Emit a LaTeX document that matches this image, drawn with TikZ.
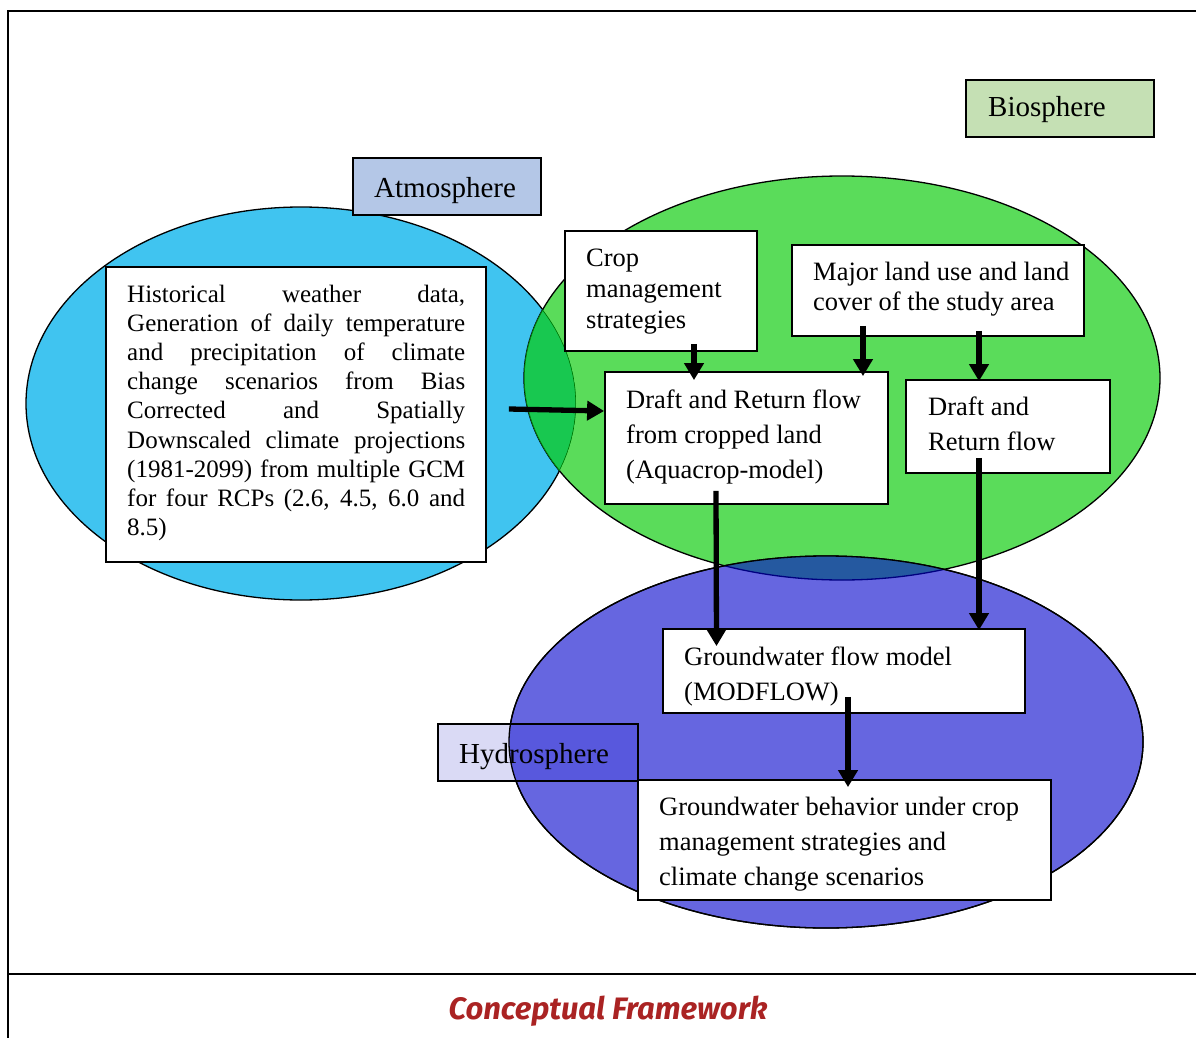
\documentclass[tikz,border=0pt]{standalone}
\usepackage{fontspec}
\setmainfont{Liberation Serif}
\newfontfamily\capfont{Fira Sans}
\usetikzlibrary{arrows.meta,calc}
\definecolor{blueE}{RGB}{64,196,240}
\definecolor{greenE}{RGB}{90,220,90}
\definecolor{purpleE}{RGB}{102,102,224}
\definecolor{ovBG}{RGB}{24,200,80}
\definecolor{ovGP}{RGB}{37,89,160}
\definecolor{hydroF}{RGB}{218,218,245}
\definecolor{hydroOv}{RGB}{88,88,221}
\definecolor{atmF}{RGB}{180,199,231}
\definecolor{bioF}{RGB}{197,224,180}
\definecolor{capred}{RGB}{170,35,35}
\begin{document}
\begin{tikzpicture}[x=1pt,y=-1pt,
  box/.style={draw=black,line width=1.8pt,fill=white,inner sep=0pt,rectangle},
  lbl/.style={anchor=base west,inner sep=0pt,align=left,font=\fontsize{26.5}{35}\selectfont},
  arr/.style={line width=5.3pt,-{Triangle[length=17pt,width=19pt]}},
  ell/.style={draw=black,line width=1.3pt},
  frame/.style={line width=1.8pt}]
\useasboundingbox (0,0) rectangle (1196,1038);
% outer frame
\draw[frame] (8,1038) -- (8,11) -- (1196,11);
\draw[frame] (8,974) -- (1196,974);
% ellipses
\def\blueEll{(301,403.5) ellipse [x radius=275pt, y radius=196.5pt]}
\def\greenEll{(842,378) ellipse [x radius=318pt, y radius=202pt]}
\def\purpleEll{(826,742) ellipse [x radius=317pt, y radius=186pt]}
\fill[blueE] \blueEll;
\draw[ell] \blueEll;
\fill[greenE] \greenEll;
\draw[ell] \greenEll;
\begin{scope}
  \clip \blueEll;
  \fill[ovBG] \greenEll;
  \clip \greenEll;
  \draw[line width=1.2pt,green!45!black] \greenEll;
  \draw[line width=1.2pt,green!45!black] \blueEll;
\end{scope}
\fill[purpleE] \purpleEll;
\draw[ell] \purpleEll;
\begin{scope}
  \clip \purpleEll;
  \fill[ovGP] \greenEll;
  \draw[line width=1.3pt,blue!50!black] \greenEll;
\end{scope}
\draw[ell] \purpleEll;
% label boxes
\node[box,fill=bioF,minimum width=188pt,minimum height=57pt] (bio) at (1060,108.5) {};
\node[lbl,font=\fontsize{29}{34}\selectfont] (biot) at (988,117) {Biosphere};
\node[box,fill=atmF,minimum width=188pt,minimum height=57pt] (atm) at (447,186.5) {};
\node[lbl,font=\fontsize{29}{34}\selectfont] (atmt) at (374,197) {Atmosphere};
% hydrosphere box with transparency look
\fill[hydroF] (438,724) rectangle (638,781);
\begin{scope}
  \clip (438,724) rectangle (638,781);
  \fill[hydroOv] \purpleEll;
  \draw[ell] \purpleEll;
\end{scope}
\node[draw=black,line width=1.8pt,inner sep=0pt,minimum width=200pt,minimum height=57pt] (hydro) at (538,752.5) {};
\node[lbl,font=\fontsize{29}{34}\selectfont] (hydrot) at (459,763) {Hydrosphere};
% content boxes (text nodes: anchor at the baseline of the LAST line)
\node[box,minimum width=380pt,minimum height=295pt] (hist) at (296,414.5) {};
\node[lbl,font=\fontsize{25}{29.2}\selectfont] (histt) at (127,535.6) {%
\makebox[338pt][s]{Historical weather data,}\\
\makebox[338pt][s]{Generation of daily temperature}\\
\makebox[338pt][s]{and precipitation of climate}\\
\makebox[338pt][s]{change scenarios from Bias}\\
\makebox[338pt][s]{Corrected and Spatially}\\
\makebox[338pt][s]{Downscaled climate projections}\\
\makebox[338pt][s]{(1981-2099) from multiple GCM}\\
\makebox[338pt][s]{for four RCPs (2.6, 4.5, 6.0 and}\\
8.5)};
\node[box,minimum width=192pt,minimum height=120pt] (crop) at (661,291) {};
\node[lbl,font=\fontsize{26.5}{31}\selectfont] (cropt) at (586,328) {Crop\\management\\strategies};
\node[box,minimum width=292pt,minimum height=91pt] (major) at (938,290.5) {};
\node[lbl,font=\fontsize{26.5}{30.5}\selectfont] (majort) at (813,310.5) {Major land use and land\\cover of the study area};
\node[box,minimum width=283pt,minimum height=132pt] (dcrop) at (746.5,438) {};
\node[lbl] (dcropt) at (626,478) {Draft and Return flow\\from cropped land\\(Aquacrop-model)};
\node[box,minimum width=204pt,minimum height=93pt] (dr) at (1008,426.5) {};
\node[lbl] (drt) at (928,450) {Draft and\\Return flow};
\node[box,minimum width=362pt,minimum height=84pt] (gw) at (844,671) {};
\node[lbl] (gwt) at (684,700) {Groundwater flow model\\(MODFLOW)};
\node[box,minimum width=413pt,minimum height=120pt] (beh) at (844.5,840) {};
\node[lbl] (beht) at (659,885) {Groundwater behavior under crop\\management strategies and\\climate change scenarios};
% arrows
\draw[arr] ($(hist.east)+(22,-5.5)$) -- ($(dcrop.west)+(0,-27)$);
\draw[arr] ($(crop.south)+(33,-8)$) -- ($(dcrop.north)+(-52.5,9)$);
\draw[arr] ($(major.south)+(-75,-11)$) -- ($(dcrop.north)+(116.5,5)$);
\draw[arr] ($(major.south)+(41,-6)$) -- ($(dr.north)+(-29,2)$);
\draw[arr] ($(dcrop.south)+(-30.5,-14)$) -- ($(gw.north)+(-127.5,18)$);
\draw[arr] ($(dr.south)+(-29,-16)$) -- ($(gw.north)+(135,2)$);
\draw[arr] ($(gw.south)+(4,-17)$) -- ($(beh.north)+(3.5,8)$);
% caption
\node[inner sep=0pt,anchor=base,text=capred,font=\capfont\bfseries\itshape\fontsize{31}{36}\selectfont] (cap) at (608,1019) {Conceptual Framework};
\end{tikzpicture}
\end{document}
